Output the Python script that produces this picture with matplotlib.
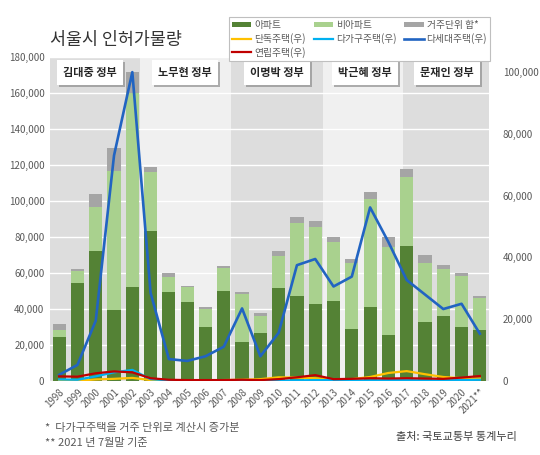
"""Seoul housing permit volume chart: stacked bars (left axis) + house-type lines (right axis)."""

import matplotlib
matplotlib.use("Agg")
import matplotlib.pyplot as plt
import matplotlib.patheffects as pe
import numpy as np

plt.rcParams["font.family"] = ["Noto Sans CJK KR", "DejaVu Sans"]

YEARS = [str(y) for y in range(1998, 2021)] + ["2021**"]

# bars (left axis)
APT = [24600, 54300, 72200, 39400, 52000, 83300, 49600, 43700, 30200, 50000, 21900, 26900,
       51500, 47200, 42800, 44600, 28700, 41300, 25400, 75000, 32600, 36100, 30200, 28300]
NON_APT = [3700, 7000, 24700, 77100, 107800, 32600, 8300, 8500, 10000, 13000, 26400, 9200,
           17900, 40800, 42900, 32800, 36700, 59600, 49200, 38100, 32800, 26100, 28100, 17600]
UNIT_EXTRA = [3400, 900, 7000, 13100, 12000, 3100, 1900, 400, 700, 1100, 1300, 1500,
              3000, 2900, 3400, 2400, 2200, 4300, 5200, 4500, 4400, 2200, 1900, 1500]

# lines (right axis)
DETACHED = [100, 100, 500, 700, 1000, 300, 200, 200, 200, 300, 400, 600,
            1200, 1100, 900, 500, 600, 1300, 2600, 3200, 2200, 1300, 900, 800]
MULTI_HH = [500, 400, 1500, 2800, 3600, 600, 200, 100, 100, 100, 100, 100,
            100, 200, 300, 300, 200, 200, 300, 300, 200, 200, 300, 400]
MULTI_UNIT = [2000, 5200, 19500, 73000, 100000, 28500, 7100, 6500, 8000, 11100, 23500, 8000,
              15600, 37500, 39500, 30600, 33800, 56200, 45000, 32700, 28000, 23300, 25000, 15300]
ROW_HOUSE = [1500, 1400, 2500, 3100, 2800, 900, 400, 300, 300, 300, 400, 300,
             600, 1200, 1900, 600, 700, 900, 800, 900, 800, 700, 1100, 1600]

GOVS = ["김대중 정부", "노무현 정부", "이명박 정부", "박근혜 정부", "문재인 정부"]
GOV_SPANS = [(-0.5, 4.4), (4.4, 9.4), (9.4, 14.45), (14.45, 18.8), (18.8, 23.5)]
GOV_LABEL_X = [1.7, 6.9, 11.9, 16.7, 21.2]

C_APT = "#548235"
C_NON = "#A9D18E"
C_EXTRA = "#A5A5A5"
C_DET = "#FFC000"
C_MHH = "#00B0F0"
C_MU = "#2164C2"
C_ROW = "#C00000"
TXT = "#595959"

fig = plt.figure(figsize=(5.4, 4.55), dpi=100)
ax = fig.add_axes([50 / 540, 1 - 381 / 455, 439 / 540, 324 / 455])
ax2 = ax.twinx()

x = np.arange(len(YEARS))
apt = np.array(APT)
non = np.array(NON_APT)
extra = np.array(UNIT_EXTRA)

# government shading
for i, (a, b) in enumerate(GOV_SPANS):
    ax.axvspan(a, b, color="#DDDDDD" if i % 2 == 0 else "#F0F0F0", zorder=0, lw=0)

w = 0.72
ax.bar(x, apt, w, color=C_APT, label="아파트", zorder=2)
ax.bar(x, non, w, bottom=apt, color=C_NON, label="비아파트", zorder=2)
ax.bar(x, extra, w, bottom=apt + non, color=C_EXTRA, label="거주단위 합*", zorder=2)

ax.set_xlim(-0.5, len(YEARS) - 0.5)
ax.set_ylim(0, 180000)
ax.set_yticks(np.arange(0, 180001, 20000))
ax.yaxis.set_major_formatter(matplotlib.ticker.FuncFormatter(lambda v, p: f"{int(v):,}"))
ax.grid(axis="y", color="white", linewidth=1.0)
ax.set_axisbelow(True)
ax.set_xticks(x)
ax.set_xticklabels(YEARS, rotation=45, ha="right", rotation_mode="anchor")
ax.tick_params(length=0, labelsize=7, colors=TXT, pad=4)
for s in ax.spines.values():
    s.set_visible(False)

ax2.plot(x, DETACHED, color=C_DET, lw=1.6, label="단독주택(우)")
ax2.plot(x, MULTI_HH, color=C_MHH, lw=1.6, label="다가구주택(우)")
ax2.plot(x, MULTI_UNIT, color=C_MU, lw=1.9, label="다세대주택(우)")
ax2.plot(x, ROW_HOUSE, color=C_ROW, lw=1.6, label="연립주택(우)")
ax2.set_ylim(0, 104900)
ax2.set_yticks(np.arange(0, 100001, 20000))
ax2.yaxis.set_major_formatter(matplotlib.ticker.FuncFormatter(lambda v, p: f"{int(v):,}"))
ax2.tick_params(length=0, labelsize=7, colors=TXT, pad=10)
for s in ax2.spines.values():
    s.set_visible(False)

# government labels
for name, gx in zip(GOVS, GOV_LABEL_X):
    t = ax.text(gx, 171500, name, ha="center", va="center", fontsize=8, fontweight="bold",
                color="#262626", zorder=5,
                bbox=dict(boxstyle="square,pad=0.55", fc="white", ec="none"))
    t.get_bbox_patch().set_path_effects(
        [pe.withSimplePatchShadow(offset=(1.5, -1.5), shadow_rgbFace="#808080", alpha=0.6)])

# legend: column-major order to match 3-column layout
h1, l1 = ax.get_legend_handles_labels()
h2, l2 = ax2.get_legend_handles_labels()
hd = dict(zip(l1 + l2, h1 + h2))
order = ["아파트", "단독주택(우)", "연립주택(우)", "비아파트", "다가구주택(우)",
         "거주단위 합*", "다세대주택(우)"]
leg = fig.legend([hd[k] for k in order], order, ncol=3, loc="upper right",
                 bbox_to_anchor=(490 / 540, 1 - 17 / 455), fontsize=7, frameon=True,
                 fancybox=False, framealpha=1, edgecolor="#BFBFBF", borderpad=0.3,
                 labelspacing=0.3, columnspacing=0.8, handlelength=2.0, handletextpad=0.3,
                 handleheight=0.5, borderaxespad=0)
leg.get_frame().set_linewidth(0.8)
for t in leg.get_texts():
    t.set_color(TXT)

fig.text(50 / 540, 1 - 40 / 455, "서울시 인허가물량", fontsize=12.5, color="#333333",
         va="center", ha="left")
fig.text(45 / 540, 1 - 428 / 455, "*  다가구주택을 거주 단위로 계산시 증가분", fontsize=8,
         color=TXT, va="center")
fig.text(45 / 540, 1 - 443 / 455, "** 2021 년 7월말 기준", fontsize=8, color=TXT, va="center")
fig.text(517 / 540, 1 - 437 / 455, "출처: 국토교통부 통계누리", fontsize=8, color="#404040",
         va="center", ha="right")

fig.savefig("out.png", dpi=100, facecolor="white")
